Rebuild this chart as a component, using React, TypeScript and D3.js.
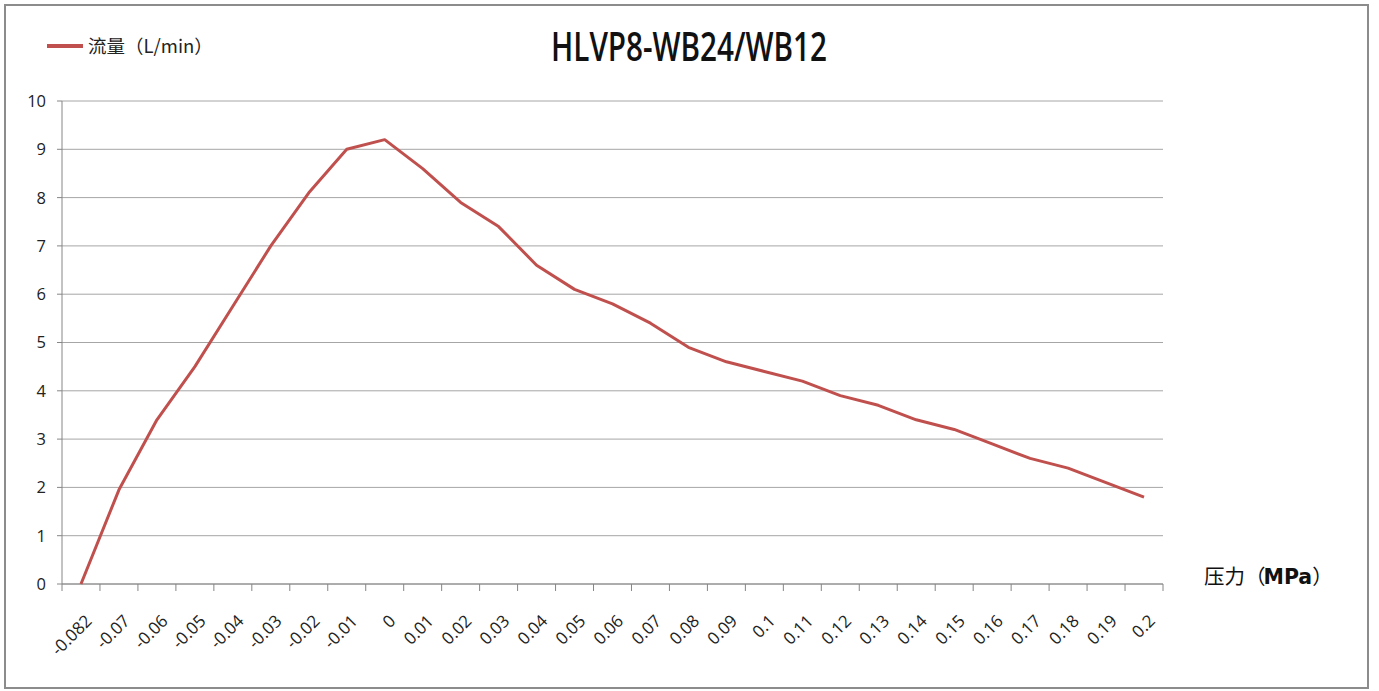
import React from "react";
import * as d3 from "d3";

const categories = [
  "-0.082", "-0.07", "-0.06", "-0.05", "-0.04", "-0.03", "-0.02", "-0.01", "0",
  "0.01", "0.02", "0.03", "0.04", "0.05", "0.06", "0.07", "0.08", "0.09", "0.1",
  "0.11", "0.12", "0.13", "0.14", "0.15", "0.16", "0.17", "0.18", "0.19", "0.2",
];
const flowValues = [
  0, 1.95, 3.4, 4.5, 5.75, 7.0, 8.1, 9.0, 9.2, 8.6, 7.9, 7.4, 6.6, 6.1, 5.8, 5.4,
  4.9, 4.6, 4.4, 4.2, 3.9, 3.7, 3.4, 3.2, 2.9, 2.6, 2.4, 2.1, 1.8,
];
const yTicks = [0, 1, 2, 3, 4, 5, 6, 7, 8, 9, 10];
const titleText = "HLVP8-WB24/WB12";
const seriesName = "流量（L/min）";

const W = 1379;
const H = 691;
const left = 62;
const right = 1163;
const top = 101;
const bottom = 584;
const lineColor = "#c0504d";
const axisColor = "#868686";
const gridColor = "#a6a6a6";
const font = "'Open Sans', 'Noto Sans CJK SC', sans-serif";

export default function App() {
  const x = d3.scaleBand<string>().domain(categories).range([left, right]).padding(0);
  const y = d3.scaleLinear().domain([0, 10]).range([bottom, top]);
  const bw = x.bandwidth();
  const cx = (c: string) => (x(c) as number) + bw / 2;
  const line = d3
    .line<number>()
    .x((_, i) => cx(categories[i]))
    .y((d) => y(d));
  const boundaries = d3.range(categories.length + 1).map((i) => left + i * bw);

  return (
    <svg
      width={W}
      height={H}
      style={{ position: "absolute", left: 0, top: 0, background: "#fff" }}
      fontFamily={font}
    >
      <rect x={0} y={0} width={W} height={H} fill="#fff" />
      <rect x={5} y={5} width={1363} height={683} fill="none" stroke="#8c8c8c" strokeWidth={2} />

      {/* grid */}
      {yTicks.map((t) => (
        <line key={"g" + t} x1={left} x2={right} y1={y(t)} y2={y(t)} stroke={gridColor} strokeWidth={1} />
      ))}
      {/* y axis */}
      <line x1={left} x2={left} y1={top} y2={bottom} stroke={axisColor} strokeWidth={1} />
      {yTicks.map((t) => (
        <g key={"yt" + t}>
          <line x1={left - 5} x2={left} y1={y(t)} y2={y(t)} stroke={axisColor} />
          <text x={46} y={y(t)} dy="0.36em" textAnchor="end" fontSize={16.5} fill="#222">
            {t}
          </text>
        </g>
      ))}
      {/* x axis */}
      <line x1={left} x2={right} y1={bottom} y2={bottom} stroke={axisColor} strokeWidth={1} />
      {boundaries.map((b, i) => (
        <line key={"xt" + i} x1={b} x2={b} y1={bottom} y2={bottom + 7} stroke={axisColor} />
      ))}
      {categories.map((c) => (
        <text
          key={"xl" + c}
          transform={`translate(${cx(c) + 12},${bottom + 38}) rotate(-45)`}
          textAnchor="end"
          fontSize={17}
          fill="#222"
        >
          {c}
        </text>
      ))}

      {/* series */}
      <path d={line(flowValues) || ""} fill="none" stroke={lineColor} strokeWidth={3} strokeLinejoin="round" />

      {/* title */}
      <text
        x={689}
        y={61}
        textAnchor="middle"
        fontSize={40}
        fontWeight={600}
        textLength={276}
        lengthAdjust="spacingAndGlyphs"
        fill="#111"
      >
        {titleText}
      </text>

      {/* legend */}
      <line x1={47} x2={83} y1={46} y2={46} stroke={lineColor} strokeWidth={4} />
      <text x={88} y={46} dy="0.36em" fontSize={18.5} fill="#222" fontFamily="'Noto Sans CJK SC', sans-serif">
        {seriesName}
      </text>

      {/* x axis title */}
      <text x={1204} y={577} dy="0.36em" fontSize={20.5} fill="#111" fontFamily="'Noto Sans CJK SC', sans-serif">
        <tspan>压力（</tspan>
        <tspan fontWeight="bold" fontFamily="'DejaVu Sans', sans-serif" dx={-2}>MPa</tspan>
        <tspan>）</tspan>
      </text>
    </svg>
  );
}
